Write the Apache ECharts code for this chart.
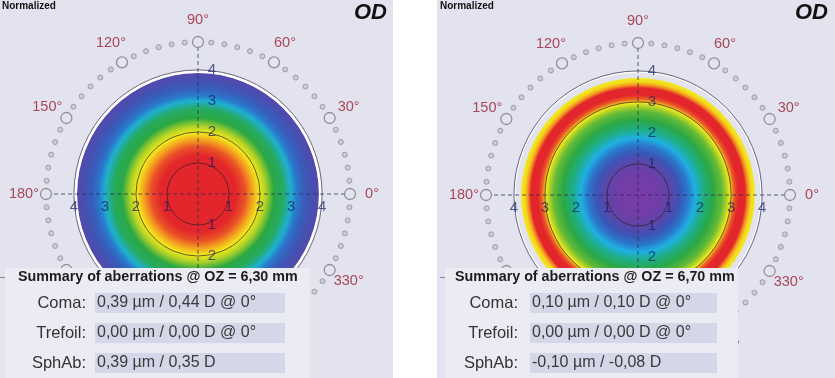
<!DOCTYPE html>
<html><head><meta charset="utf-8">
<script src="https://cdn.jsdelivr.net/npm/echarts@6/dist/echarts.min.js"></script>
<style>html,body{margin:0;padding:0;background:#fff}#c{width:835px;height:378px}</style>
</head><body><div id="c"></div>
<script>
// ---------- data ----------
const angleTicks = [0, 30, 60, 90, 120, 150, 180, 210, 240, 270, 300, 330];
const minorAngles = [5,10,15,20,25,35,40,45,50,55,65,70,75,80,85,95,100,105,110,115,125,130,135,140,145,155,160,165,170,175,185,190,195,200,205,215,220,225,230,235,245,250,255,260,265,275,280,285,290,295,305,310,315,320,325,335,340,345,350,355];
const ringNumbers = [1, 2, 3, 4];
const horizontalDirections = [0, 180];
const verticalDirections = [90, 270];

// radial profiles: radius (mm) and colour-scale level (0 = violet ... 10 = red)
const leftRadius = [0, 1.23, 1.52, 1.71, 1.97, 2.19, 2.45, 2.74, 3.0, 3.19, 3.42, 3.68, 3.9];
const leftLevel  = [10, 10, 9.6, 9, 8, 7.2, 6, 5.6, 4.2, 3, 2.2, 1.6, 1.2];
const leftContours = [1, 2, 4];

const rightRadius = [0, 0.71, 1.06, 1.35, 1.61, 1.84, 2.1, 2.42, 2.71, 2.87, 2.97, 3.1, 3.23, 3.45, 3.55, 3.65, 3.77];
const rightLevel  = [0, 0.3, 1, 2, 3, 4, 5, 6, 6.5, 7.3, 8, 9.5, 10, 10, 9, 8.2, 8];
const rightContours = [1, 3, 4];

const rowLabels = ['Coma:', 'Trefoil:', 'SphAb:'];
const leftHeader = 'Summary of aberrations @ OZ = 6,30 mm';
const leftValues = ['0,39 µm / 0,44 D @ 0°', '0,00 µm / 0,00 D @ 0°', '0,39 µm / 0,35 D'];
const rightHeader = 'Summary of aberrations @ OZ = 6,70 mm';
const rightValues = ['0,10 µm / 0,10 D @ 0°', '0,00 µm / 0,00 D @ 0°', '-0,10 µm / -0,08 D'];

// ---------- styling ----------
const PALETTE = ['#7a3aa6','#5a46aa','#3a56b6','#2a78cc','#1fb0e2','#1eae8a','#2ba844','#9ccb2a','#f2ea1c','#f39420','#e3262b'];
const BG = '#e3e3ef';
const RING = 4.9, LABEL_R = 5.61, AXIS_END = 4.74;
const FONT = '"Liberation Sans", Arial, sans-serif';

function hex2rgb(h){return [parseInt(h.slice(1,3),16),parseInt(h.slice(3,5),16),parseInt(h.slice(5,7),16)];}
function levelColor(v){
  const i = Math.min(9, Math.floor(v)), f = v - i;
  const a = hex2rgb(PALETTE[i]), b = hex2rgb(PALETTE[i+1]);
  const c = a.map((x,k)=>Math.round(x + (b[k]-x)*f));
  return 'rgb(' + c.join(',') + ')';
}
function pxRadius(api, cs, r){ const p = api.coord([r, 0]); return Math.hypot(p[0]-cs.cx, p[1]-cs.cy); }

function numberSeries(k, dirs, offset){
  const nums = [];
  ringNumbers.forEach(n=>dirs.forEach(d=>nums.push([n, d])));
  return {type:'scatter', coordinateSystem:'polar', polarIndex:k, z:5, silent:true,
    data: nums, symbolSize:1, itemStyle:{color:'rgba(0,0,0,0)'},
    label:{show:true, position:'inside', offset:offset, fontFamily:FONT, fontSize:15, color:'rgba(20,25,95,0.88)',
      formatter: p=>String(p.value[0])}};
}

function panelSeries(k, radius, level, contours){
  const rMax = radius[radius.length-1];
  const list = [];
  list.push({
    type: 'custom', coordinateSystem: 'polar', polarIndex: k, z: 1, silent: true,
    data: [[rMax, 0]],
    renderItem: function(params, api){
      const cs = params.coordSys; const R = pxRadius(api, cs, rMax);
      const stops = radius.map((r,i)=>({offset: r/rMax, color: levelColor(level[i])}));
      return {type:'circle', shape:{cx:cs.cx, cy:cs.cy, r:R},
        style:{fill: new echarts.graphic.RadialGradient(cs.cx, cs.cy, R, stops, true)}};
    }
  });
  list.push({
    type: 'custom', coordinateSystem: 'polar', polarIndex: k, z: 2, silent: true,
    data: contours.map(r=>[r, 0]),
    renderItem: function(params, api){
      const cs = params.coordSys; const r = api.value(0); const R = pxRadius(api, cs, r);
      const outer = r === contours[contours.length-1];
      const children = [];
      if (outer) children.push({type:'circle', shape:{cx:cs.cx, cy:cs.cy, r:R-(k===0?1.6:1)}, style:{fill:'none', stroke:'rgba(255,255,255,0.9)', lineWidth:k===0?3:1.5}});
      children.push({type:'circle', shape:{cx:cs.cx, cy:cs.cy, r:R}, style:{fill:'none', stroke: outer ? 'rgba(80,80,100,0.85)' : 'rgba(50,30,40,0.7)', lineWidth:1}});
      return {type:'group', children};
    }
  });
  [[0,180],[90,270]].forEach(pair=>{
    list.push({type:'line', coordinateSystem:'polar', polarIndex:k, z:3, silent:true, symbol:'none',
      data:[[AXIS_END, pair[0]],[0, pair[0]],[AXIS_END, pair[1]]],
      lineStyle:{color:'rgba(40,40,80,0.75)', width:1, type:[4,3]}});
  });
  list.push({type:'scatter', coordinateSystem:'polar', polarIndex:k, z:4, silent:true,
    data: minorAngles.map(a=>[RING, a]), symbolSize:5,
    itemStyle:{color:'#c6c6d2', borderColor:'#8e8e9c', borderWidth:1}});
  list.push({type:'scatter', coordinateSystem:'polar', polarIndex:k, z:4, silent:true,
    data: angleTicks.map(a=>[RING, a]), symbolSize:11,
    itemStyle:{color:BG, borderColor:'#7c7c8a', borderWidth:1.3}});
  list.push(numberSeries(k, horizontalDirections, [0, 13]));
  list.push(numberSeries(k, verticalDirections, [14, 0]));
  list.push({type:'scatter', coordinateSystem:'polar', polarIndex:k, z:5, silent:true,
    data: angleTicks.map(a=>[LABEL_R, a]), symbolSize:1, itemStyle:{color:'rgba(0,0,0,0)'},
    label:{show:true, position:'inside', fontFamily:FONT, fontSize:14.5, color:'#9a1e30',
      formatter: p=>p.value[1] + '°'}});
  return list;
}

function tableGraphics(x0, w, header, headerX, labelRight, boxX, boxW, values){
  const els = [];
  els.push({type:'rect', z:100, shape:{x:x0, y:268, width:w, height:110}, style:{fill:'#ebebf4'}});
  els.push({type:'text', z:101, x:headerX, y:277, style:{text:header, font:'bold 14.3px ' + FONT, fill:'#1c1c1c', textVerticalAlign:'middle', verticalAlign:'middle'}});
  const ys = [303, 333, 363];
  values.forEach((v,i)=>{
    els.push({type:'rect', z:100, shape:{x:boxX, y:ys[i]-10, width:boxW, height:20}, style:{fill:'#d6d6e9'}});
    els.push({type:'text', z:101, x:labelRight, y:ys[i], style:{text:rowLabels[i], font:'16.5px ' + FONT, fill:'#333', align:'right', textAlign:'right', verticalAlign:'middle', textVerticalAlign:'middle'}});
    els.push({type:'text', z:101, x:boxX+2, y:ys[i], style:{text:v, font:'16px ' + FONT, fill:'#3a3a3a', verticalAlign:'middle', textVerticalAlign:'middle'}});
  });
  return els;
}

const PX_PER_MM = 152 / RING;
const axisCommon = {
  radius: {type:'value', min:0, max:LABEL_R, axisLine:{show:false}, axisTick:{show:false}, axisLabel:{show:false}, splitLine:{show:false}},
  angle: {type:'value', min:0, max:360, interval:30, startAngle:0, clockwise:false, axisLine:{show:false}, axisTick:{show:false}, axisLabel:{show:false}, splitLine:{show:false}}
};

const chart = echarts.init(document.getElementById('c'), null, {renderer:'canvas'});
chart.setOption({
  animation:false,
  backgroundColor:'#ffffff',
  polar:[{center:[198,194], radius:LABEL_R*PX_PER_MM},{center:[638,195], radius:LABEL_R*PX_PER_MM}],
  radiusAxis:[Object.assign({polarIndex:0}, axisCommon.radius), Object.assign({polarIndex:1}, axisCommon.radius)],
  angleAxis:[Object.assign({polarIndex:0}, axisCommon.angle), Object.assign({polarIndex:1}, axisCommon.angle)],
  graphic:[
    {type:'rect', z:-10, shape:{x:0,y:0,width:393,height:378}, style:{fill:BG}},
    {type:'rect', z:-10, shape:{x:437,y:0,width:398,height:378}, style:{fill:BG}},
    {type:'text', z:101, x:2, y:6, style:{text:'Normalized', font:'bold 10px ' + FONT, fill:'#111', verticalAlign:'middle', textVerticalAlign:'middle'}},
    {type:'text', z:101, x:440, y:6, style:{text:'Normalized', font:'bold 10px ' + FONT, fill:'#111', verticalAlign:'middle', textVerticalAlign:'middle'}},
    {type:'text', z:101, x:387, y:13, style:{text:'OD', font:'italic bold 22px ' + FONT, fill:'#111', align:'right', textAlign:'right', verticalAlign:'middle', textVerticalAlign:'middle'}},
    {type:'text', z:101, x:828, y:13, style:{text:'OD', font:'italic bold 22px ' + FONT, fill:'#111', align:'right', textAlign:'right', verticalAlign:'middle', textVerticalAlign:'middle'}},
    {type:'rect', z:101, shape:{x:0,y:277,width:5,height:1}, style:{fill:'#8a8a96'}},
    {type:'rect', z:101, shape:{x:440,y:277,width:5,height:1}, style:{fill:'#8a8a96'}}
  ].concat(
    tableGraphics(5, 305, leftHeader, 18, 86, 95, 190, leftValues),
    tableGraphics(445, 293, rightHeader, 455, 518, 530, 187, rightValues)
  ),
  series: panelSeries(0, leftRadius, leftLevel, leftContours).concat(panelSeries(1, rightRadius, rightLevel, rightContours))
});
</script></body></html>
